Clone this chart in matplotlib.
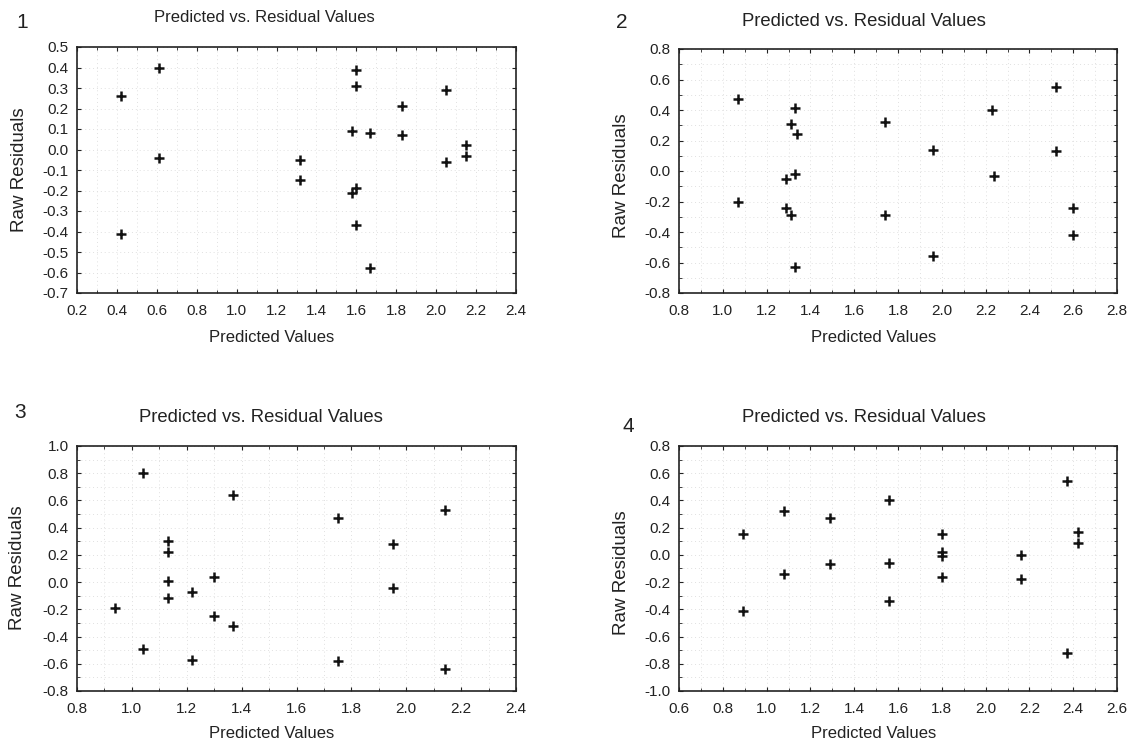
import matplotlib
matplotlib.use('Agg')
import matplotlib.pyplot as plt
import numpy as np
from matplotlib.ticker import AutoMinorLocator, FormatStrFormatter

plt.rcParams['font.family'] = ['Liberation Sans', 'DejaVu Sans']
plt.rcParams['axes.unicode_minus'] = False

# data
pred1 = [0.42, 0.61, 0.61, 0.42, 1.60, 1.60, 2.05, 1.83, 1.58, 1.67, 1.83, 2.15, 2.15, 2.05,
         1.32, 1.32, 1.60, 1.58, 1.60, 1.67]
res1 = [0.26, 0.40, -0.04, -0.41, 0.39, 0.31, 0.29, 0.21, 0.09, 0.08, 0.07, 0.02, -0.03, -0.06,
        -0.05, -0.15, -0.19, -0.21, -0.37, -0.58]

pred2 = [1.07, 1.33, 1.31, 1.34, 1.33, 1.29, 1.07, 1.29, 1.31, 1.33, 2.52, 2.23, 1.74, 1.96,
         2.52, 2.24, 2.60, 1.74, 2.60, 1.96]
res2 = [0.47, 0.41, 0.31, 0.24, -0.02, -0.05, -0.20, -0.24, -0.29, -0.63, 0.55, 0.40, 0.32, 0.14,
        0.13, -0.03, -0.24, -0.29, -0.42, -0.56]

pred3 = [1.04, 1.37, 1.13, 1.13, 1.30, 1.13, 1.22, 1.13, 0.94, 1.30, 1.37, 1.04, 1.22,
         2.14, 1.75, 1.95, 1.95, 1.75, 2.14]
res3 = [0.80, 0.64, 0.30, 0.22, 0.04, 0.01, -0.07, -0.12, -0.19, -0.25, -0.32, -0.49, -0.57,
        0.53, 0.47, 0.28, -0.04, -0.58, -0.64]

pred4 = [0.89, 1.08, 1.29, 1.29, 1.08, 0.89, 2.37, 1.56, 2.42, 1.80, 2.42, 1.80, 2.16, 1.80,
         1.56, 2.16, 1.80, 1.56, 2.37]
res4 = [0.15, 0.32, 0.27, -0.07, -0.14, -0.41, 0.54, 0.40, 0.17, 0.15, 0.09, 0.02, 0.00, -0.01,
        -0.06, -0.18, -0.16, -0.34, -0.72]

xlims = [(0.2, 2.4), (0.8, 2.8), (0.8, 2.4), (0.6, 2.6)]
ylims = [(-0.7, 0.5), (-0.8, 0.8), (-0.8, 1.0), (-1.0, 0.8)]
ysteps = [0.1, 0.2, 0.2, 0.2]
panel_names = ['1', '2', '3', '4']

W, H = 1130, 745
fig = plt.figure(figsize=(W / 100, H / 100), dpi=100)
fig.patch.set_facecolor('white')


def fx(px):
    return px / W


def fy(py):
    return 1 - py / H


# axes boxes in pixels: left, top, right, bottom
boxes = [(77, 47, 516, 293), (679, 49, 1117, 293), (77, 446, 516, 691), (679, 446, 1117, 691)]
title_pos = [(264, 18, 12), (864, 21, 13.3), (261, 417, 13.3), (864, 417, 13.3)]
xlab_pos = [(272, 337), (874, 337), (272, 733), (874, 733)]
ylab_pos = [(20, 170), (622, 176), (18, 568), (622, 573)]
num_pos = [(22, 23), (622, 23), (20, 413), (628, 427)]

data = [(pred1, res1), (pred2, res2), (pred3, res3), (pred4, res4)]

for i in range(4):
    l, t, r, b = boxes[i]
    ax = fig.add_axes([fx(l), fy(b), (r - l) / W, (b - t) / H])
    px, rs = data[i]
    ax.plot(px, rs, linestyle='none', marker='+', markersize=7,
            markeredgewidth=1.8, color='#111111', zorder=3)

    x0, x1 = xlims[i]
    y0, y1 = ylims[i]
    ax.set_xlim(x0, x1)
    ax.set_ylim(y0, y1)
    ax.set_xticks(np.round(np.arange(x0, x1 + 0.001, 0.2), 1) + 0.0)
    ax.set_yticks(np.round(np.arange(y0, y1 + 0.001, ysteps[i]), 1) + 0.0)
    ax.xaxis.set_major_formatter(FormatStrFormatter('%.1f'))
    ax.yaxis.set_major_formatter(FormatStrFormatter('%.1f'))
    ax.xaxis.set_minor_locator(AutoMinorLocator(2))
    if ysteps[i] == 0.2:
        ax.yaxis.set_minor_locator(AutoMinorLocator(2))
    ax.tick_params(which='both', direction='in', top=True, right=True,
                   labelsize=11, colors='#222222')
    ax.tick_params(axis='x', pad=8)
    ax.tick_params(axis='y', pad=6)
    ax.tick_params(which='major', length=3, width=0.8)
    ax.tick_params(which='minor', length=2, width=0.6)

    ax.grid(True, which='both', linestyle=(0, (1, 3)), linewidth=0.7, color='#e0e0e0')
    ax.set_axisbelow(True)
    for sp in ax.spines.values():
        sp.set_linewidth(1.2)
        sp.set_color('#222222')

    tx, ty, ts = title_pos[i]
    fig.text(fx(tx), fy(ty), 'Predicted vs. Residual Values', ha='center', va='center',
             fontsize=ts, color='#222222')
    lx, ly = xlab_pos[i]
    fig.text(fx(lx), fy(ly), 'Predicted Values', ha='center', va='center',
             fontsize=12, color='#222222')
    yx, yy = ylab_pos[i]
    fig.text(fx(yx), fy(yy), 'Raw Residuals', ha='center', va='center', rotation=90,
             fontsize=13.5, color='#222222')
    nx, ny = num_pos[i]
    fig.text(fx(nx), fy(ny), panel_names[i], ha='center', va='center',
             fontsize=15, color='#222222')

plt.savefig('out.png', dpi=100, facecolor='white')
plt.close()
